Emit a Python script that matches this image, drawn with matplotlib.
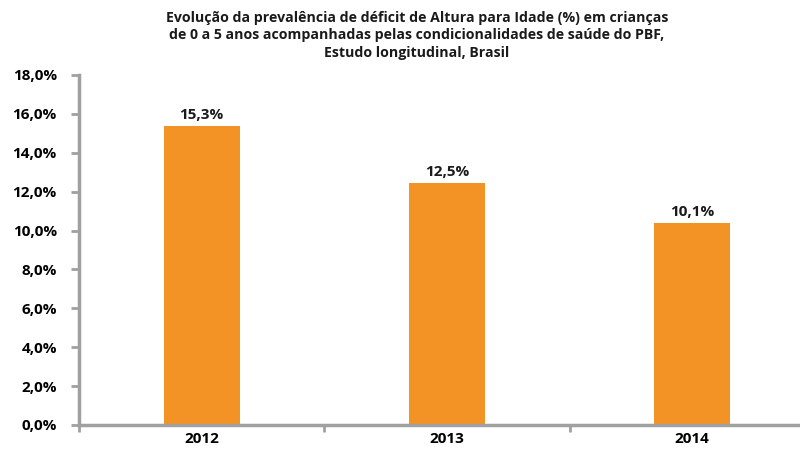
import matplotlib.pyplot as plt

anos = ["2012", "2013", "2014"]
alturas = [15.4, 12.43, 10.4]
rotulos = ["15,3%", "12,5%", "10,1%"]
yticks = [0, 2, 4, 6, 8, 10, 12, 14, 16, 18]

titulo = ("Evolução da prevalência de déficit de Altura para Idade (%) em crianças\n"
          "de 0 a 5 anos acompanhadas pelas condicionalidades de saúde do PBF,\n"
          "Estudo longitudinal, Brasil")

plt.rcParams['font.family'] = ['Open Sans', 'DejaVu Sans']
cinza = "#A0A0A0"
laranja = "#F39325"

fig = plt.figure(figsize=(8, 4.5), dpi=100)
ax = fig.add_axes([79 / 800, 1 - 425 / 450, 736 / 800, 350 / 450])

x = range(len(anos))
ax.bar(x, alturas, width=0.31, color=laranja)
for xi, h, r in zip(x, alturas, rotulos):
    ax.text(xi, h + 0.2, r, ha="center", va="bottom", fontsize=11, fontweight="bold", color="#1a1a1a")

ax.set_xlim(-0.5, 2.5)
ax.set_ylim(0, 18)
ax.set_yticks(yticks)
ax.set_yticklabels([f"{v:.1f}%".replace(".", ",") for v in yticks], fontsize=11, fontweight="bold")
ax.set_xticks([-0.5, 0.5, 1.5, 2.5])
ax.set_xticklabels([])
ax.set_xticks(list(x), minor=True)
ax.set_xticklabels(anos, minor=True, fontsize=11, fontweight="bold")
ax.tick_params(axis="x", which="minor", length=0, pad=5)
ax.tick_params(axis="x", which="major", length=5, width=2, color=cinza)
ax.tick_params(axis="y", length=6, width=2, color=cinza, pad=10)

for s in ["top", "right"]:
    ax.spines[s].set_visible(False)
for s in ["left", "bottom"]:
    ax.spines[s].set_color(cinza)
    ax.spines[s].set_linewidth(2.5)

fig.text(417 / 800, 1 - 11 / 450, titulo, ha="center", va="top", fontsize=10.2,
         fontweight="bold", linespacing=1.3, color="#1a1a1a")

fig.savefig("out.png", dpi=100)
